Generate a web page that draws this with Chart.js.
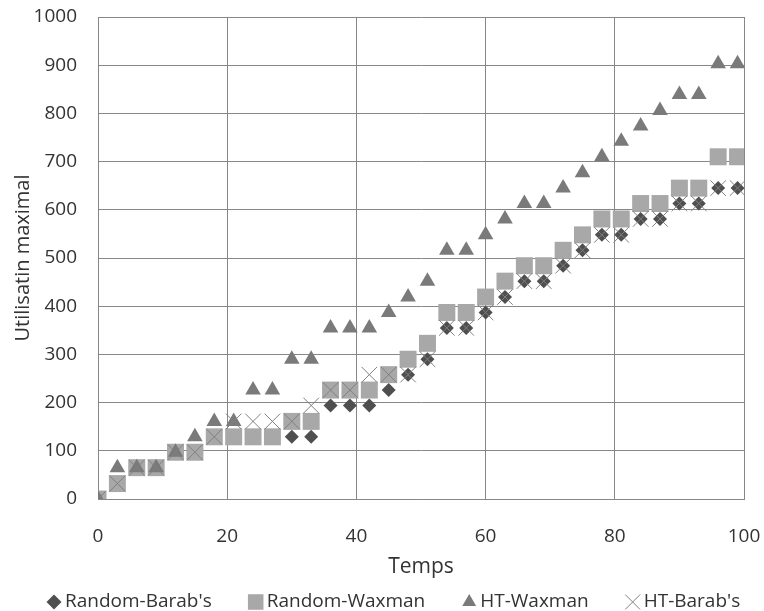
<!DOCTYPE html>
<html>
<head>
<meta charset="utf-8">
<script src="https://cdn.jsdelivr.net/npm/chart.js@4/dist/chart.umd.min.js"></script>
<style>
  html, body { margin: 0; padding: 0; background: #fff; }
  #wrap { width: 764px; height: 611px; }
</style>
</head>
<body>
<div id="wrap"><canvas id="chart" width="764" height="611"></canvas></div>
<script>
const temps = [0, 3, 6, 9, 12, 15, 18, 21, 24, 27, 30, 33, 36, 39, 42, 45, 48, 51,
  54, 57, 60, 63, 66, 69, 72, 75, 78, 81, 84, 87, 90, 93, 96, 99];

const randomBarab = [0, 32, 65, 65, 97, 97, 129, 129, 129, 129, 129, 129, 194, 194, 194, 226, 258, 290,
  355, 355, 387, 419, 452, 452, 484, 516, 548, 548, 581, 581, 613, 613, 645, 645];
const randomWaxman = [0, 32, 65, 65, 97, 97, 129, 129, 129, 129, 161, 161, 226, 226, 226, 258, 290, 323,
  387, 387, 419, 452, 484, 484, 516, 548, 581, 581, 613, 613, 645, 645, 710, 710];
const htWaxman = [0, 65, 65, 65, 97, 129, 161, 161, 226, 226, 290, 290, 355, 355, 355, 387, 419, 452,
  516, 516, 548, 581, 613, 613, 645, 677, 710, 742, 774, 806, 839, 839, 903, 903];
const htBarab = [0, 32, 65, 65, 97, 97, 129, 161, 161, 161, 161, 194, 226, 226, 258, 258, 258, 290,
  355, 355, 387, 419, 452, 452, 484, 516, 548, 548, 581, 581, 613, 613, 645, 645];

const xTicks = [0, 20, 40, 60, 80, 100];
const yTicks = [0, 100, 200, 300, 400, 500, 600, 700, 800, 900, 1000];

function pts(ys) {
  return temps.map((t, i) => ({ x: t, y: ys[i] }));
}

const font = "'Open Sans', 'DejaVu Sans', sans-serif";
const textColor = "#333333";
const gridColor = "#878787";

// legend drawn by hand, Excel style (small gap between marker and text)
const excelLegend = {
  id: "excelLegend",
  afterDraw(chart) {
    const ctx = chart.ctx;
    const y = 602;
    let x = 46;
    ctx.save();
    ctx.font = "19px " + font;
    ctx.textBaseline = "middle";
    ctx.textAlign = "left";
    chart.data.datasets.forEach((ds) => {
      const w = 16;
      ctx.fillStyle = ds.backgroundColor;
      ctx.strokeStyle = ds.borderColor;
      ctx.lineWidth = ds.borderWidth || 0;
      Chart.helpers.drawPoint(ctx, { pointStyle: ds.pointStyle, radius: ds.legendRadius, borderWidth: ds.borderWidth || 0, rotation: 0 }, x + w / 2, y);
      x += w + 3;
      ctx.fillStyle = textColor;
      ctx.fillText(ds.label, x, y);
      x += ctx.measureText(ds.label).width + 36;
    });
    ctx.restore();
  },
};

document.addEventListener("DOMContentLoaded", function () {
  const ctx = document.getElementById("chart");
  new Chart(ctx, {
    type: "scatter",
    data: {
      datasets: [
        {
          label: "Random-Barab's",
          data: pts(randomBarab),
          pointStyle: "rectRot",
          pointRadius: 7,
          legendRadius: 7.5,
          backgroundColor: "#4f4f4f",
          borderColor: "#4f4f4f",
          borderWidth: 0,
          order: 4,
        },
        {
          label: "Random-Waxman",
          data: pts(randomWaxman),
          pointStyle: "rect",
          pointRadius: 12,
          legendRadius: 11,
          backgroundColor: "#a8a8a8",
          borderColor: "#a8a8a8",
          borderWidth: 0,
          order: 3,
        },
        {
          label: "HT-Waxman",
          data: pts(htWaxman),
          pointStyle: "triangle",
          pointRadius: 9,
          legendRadius: 8,
          backgroundColor: "#7a7a7a",
          borderColor: "#7a7a7a",
          borderWidth: 0,
          order: 2,
        },
        {
          label: "HT-Barab's",
          data: pts(htBarab),
          pointStyle: "crossRot",
          pointRadius: 11,
          legendRadius: 10.5,
          backgroundColor: "#808080",
          borderColor: "#808080",
          borderWidth: 1,
          order: 1,
        },
      ],
    },
    options: {
      responsive: false,
      animation: false,
      layout: { padding: { left: 0, right: 20, top: 17, bottom: 0 } },
      scales: {
        x: {
          type: "linear",
          min: 0,
          max: 100,
          afterBuildTicks: (axis) => { axis.ticks = xTicks.map((v) => ({ value: v })); },
          afterFit: (axis) => {
            axis.height = 112;
            axis.paddingLeft = 0;
            axis.paddingRight = 0;
          },
          grid: { color: gridColor, lineWidth: 1, drawTicks: false },
          border: { color: gridColor },
          ticks: { color: textColor, font: { family: font, size: 19 }, padding: 26 },
          title: { display: true, text: "Temps", color: textColor, font: { family: font, size: 21 }, padding: { top: 0, bottom: 31 } },
        },
        y: {
          min: 0,
          max: 1000,
          afterBuildTicks: (axis) => { axis.ticks = yTicks.map((v) => ({ value: v })); },
          afterFit: (axis) => {
            axis.width = 98;
            axis.paddingTop = 0;
            axis.paddingBottom = 0;
          },
          grid: { color: gridColor, lineWidth: 1, drawTicks: false },
          border: { color: gridColor },
          ticks: { color: textColor, font: { family: font, size: 19 }, padding: 21, callback: (v) => String(v) },
          title: { display: true, text: "Utilisatin maximal", color: textColor, font: { family: font, size: 20 }, padding: { top: 11, bottom: 0 } },
        },
      },
      plugins: {
        legend: { display: false },
        tooltip: { enabled: false },
      },
    },
    plugins: [excelLegend],
  });
});
</script>
</body>
</html>
